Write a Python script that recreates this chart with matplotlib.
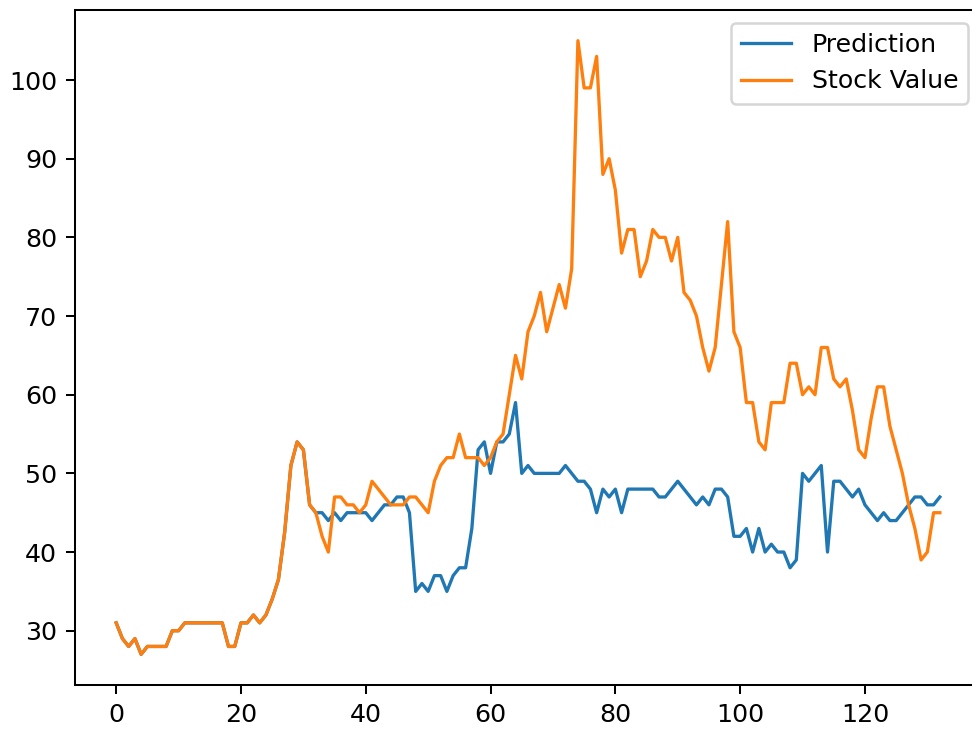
import matplotlib
matplotlib.use("Agg")
import matplotlib.pyplot as plt

# --- Data (one value per day, 0..132) ---
stock_value = [
    31, 29, 28, 29, 27, 28, 28, 28, 28, 30,
    30, 31, 31, 31, 31, 31, 31, 31, 28, 28,
    31, 31, 32, 31, 32, 34, 36.5, 42.5, 51, 54,
    53, 46, 45, 42, 40, 47, 47, 46, 46, 45,
    46, 49, 48, 47, 46, 46, 46, 47, 47, 46,
    45, 49, 51, 52, 52, 55, 52, 52, 52, 51,
    52, 54, 55, 60, 65, 62, 68, 70, 73, 68,
    71, 74, 71, 76, 105, 99, 99, 103, 88, 90,
    86, 78, 81, 81, 75, 77, 81, 80, 80, 77,
    80, 73, 72, 70, 66, 63, 66, 74, 82, 68,
    66, 59, 59, 54, 53, 59, 59, 59, 64, 64,
    60, 61, 60, 66, 66, 62, 61, 62, 58, 53,
    52, 57, 61, 61, 56, 53, 50, 46, 43, 39,
    40, 45, 45,
]

prediction = [
    31, 29, 28, 29, 27, 28, 28, 28, 28, 30,
    30, 31, 31, 31, 31, 31, 31, 31, 28, 28,
    31, 31, 32, 31, 32, 34, 36.5, 42.5, 51, 54,
    53, 46, 45, 45, 44, 45, 44, 45, 45, 45,
    45, 44, 45, 46, 46, 47, 47, 45, 35, 36,
    35, 37, 37, 35, 37, 38, 38, 43, 53, 54,
    50, 54, 54, 55, 59, 50, 51, 50, 50, 50,
    50, 50, 51, 50, 49, 49, 48, 45, 48, 47,
    48, 45, 48, 48, 48, 48, 48, 47, 47, 48,
    49, 48, 47, 46, 47, 46, 48, 48, 47, 42,
    42, 43, 40, 43, 40, 41, 40, 40, 38, 39,
    50, 49, 50, 51, 40, 49, 49, 48, 47, 48,
    46, 45, 44, 45, 44, 44, 45, 46, 47, 47,
    46, 46, 47,
]

# --- Figure sized like the reference screenshot ---
dpi = 182
fig = plt.figure(figsize=(973 / dpi, 729 / dpi), dpi=dpi, facecolor="white")

# axes box placed as in the screenshot (right spine is cut off there)
ax = fig.add_axes([75 / 973, 1 - 685 / 729, 906 / 973, 675 / 729])

ax.plot(prediction, label="Prediction", linewidth=1.3)
ax.plot(stock_value, label="Stock Value", linewidth=1.3)

ax.legend(loc="upper right")

fig.savefig("out.png", dpi=dpi)
